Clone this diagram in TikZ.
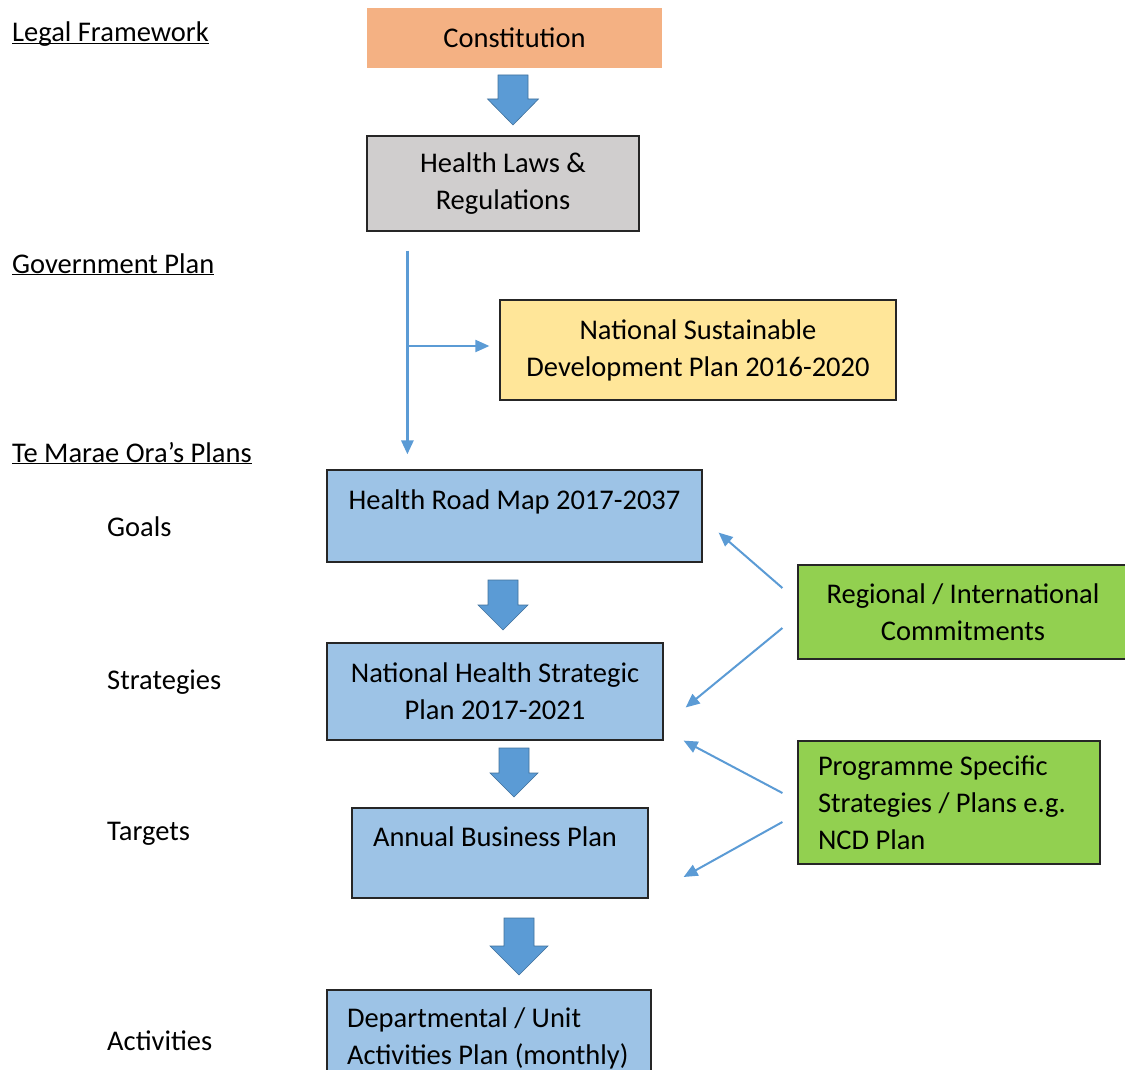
\documentclass[tikz,border=0pt]{standalone}
\usepackage{fontspec}
\setmainfont{Carlito}
\usetikzlibrary{arrows.meta,positioning,calc}
\definecolor{legalorange}{HTML}{F4B183}
\definecolor{lawgray}{HTML}{D0CECE}
\definecolor{govyellow}{HTML}{FFE699}
\definecolor{planblue}{HTML}{9DC3E6}
\definecolor{commitgreen}{HTML}{92D050}
\definecolor{arrowblue}{HTML}{5B9BD5}
\definecolor{arrowedge}{HTML}{41719C}
\newcommand{\levelhead}[1]{\underline{\smash{#1}}}

\begin{document}
\begin{tikzpicture}[x=1pt, y=-1pt, font=\fontsize{28.5}{37}\selectfont,
    box/.style={draw=black!85, line width=1.2pt, inner sep=0pt},
    pics/bigarrow/.style n args={3}{code={
      \draw[arrowedge, fill=arrowblue, line width=0.6pt, line join=miter]
        (-15,0) -- (15,0) -- (15,#1-#3) -- (#2/2,#1-#3) -- (0,#1)
        -- (-#2/2,#1-#3) -- (-15,#1-#3) -- cycle;}},
    feed/.style={draw=arrowblue, line width=2pt, -{Triangle[length=14pt,width=12pt]}},
    level/.style={anchor=base west, inner sep=0pt}]
  \path[use as bounding box, clip] (0,0) rectangle (1125,1070);

  % left column
  \node[level] (lf) at (12,42) {\levelhead{Legal Framework}};
  \node[level] (gp) at (12,273) {\levelhead{Government Plan}};
  \node[level] (tp) at (12,462) {\levelhead{Te Marae Ora’s Plans}};
  \node[level] (goals) at (107,536) {Goals};
  \node[level] (strat) at (107,689) {Strategies};
  \node[level] (targ) at (107,840) {Targets};
  \node[level] (act) at (107,1050) {Activities};

  % main chain
  \node[inner sep=0pt, fill=legalorange, minimum width=295pt, minimum height=60pt] (con) at (514.5,38) {Constitution};
  \node[box, fill=lawgray, minimum width=272pt, minimum height=95pt, align=center] (laws) at (503,183.5) {Health Laws \&\\Regulations};
  \node[box, fill=govyellow, minimum width=396pt, minimum height=100pt, align=center] (nsdp) at (698,350) {National Sustainable\\Development Plan 2016-2020};
  \node[box, fill=planblue, minimum width=375pt, text width=375pt, align=flush center,
    text height=39pt, text depth=53pt] (hrm) at (514.5,516) {Health Road Map 2017-2037};
  \node[box, fill=planblue, minimum width=336pt, minimum height=97pt, align=center] (nhsp) at (495,691.5) {National Health Strategic\\Plan 2017-2021};
  \node[box, fill=planblue, minimum width=296pt, text width=254pt, align=flush left,
    text height=38pt, text depth=52pt] (abp) at (500,853) {Annual Business Plan};
  \node[box, fill=planblue, minimum width=324pt, text width=284pt, align=flush left,
    text height=37pt, text depth=58pt] (dep) at (489,1037.5) {Departmental / Unit\\Activities Plan (monthly)};

  % side inputs
  \node[box, fill=commitgreen, minimum width=330pt, minimum height=94pt, align=center] (reg) at (963,612) {Regional / International\\Commitments};
  \node[box, fill=commitgreen, minimum width=302pt, minimum height=123pt, text width=262pt, align=flush left] (prog) at (949,802.5) {Programme Specific\\Strategies / Plans e.g.\\NCD Plan};

  % block arrows
  \pic at (513,75) {bigarrow={50}{51}{26}};
  \pic at (503,580) {bigarrow={50}{50}{25}};
  \pic at (514,748) {bigarrow={49}{48}{24}};
  \pic at (519,918) {bigarrow={57}{58}{29}};

  % government plan line
  \coordinate (gtop) at ([xshift=41pt, yshift=-19pt]laws.south west);
  \coordinate (gbot) at ($(gtop |- hrm.north)+(0,-15)$);
  \coordinate (gmid) at ($(gtop |- nsdp.west)+(0,-4)$);
  \draw[feed, line width=2.8pt] (gtop) -- (gbot);
  \draw[feed] (gmid) -- ($(gmid -| nsdp.west)+(-10,0)$);

  % feedback arrows
  \draw[feed] ([xshift=-15pt, yshift=24pt]reg.west) -- ([xshift=16pt, yshift=30pt]hrm.south east);
  \draw[feed] ([xshift=-15pt, yshift=-16pt]reg.west) -- ([xshift=22pt, yshift=-16pt]nhsp.east);
  \draw[feed] ([xshift=-15pt, yshift=9.5pt]prog.west) -- ([xshift=20pt]nhsp.south east);
  \draw[feed] ([xshift=-15pt, yshift=-19.5pt]prog.west) -- ([xshift=35pt, yshift=-24pt]abp.east);
\end{tikzpicture}
\end{document}
